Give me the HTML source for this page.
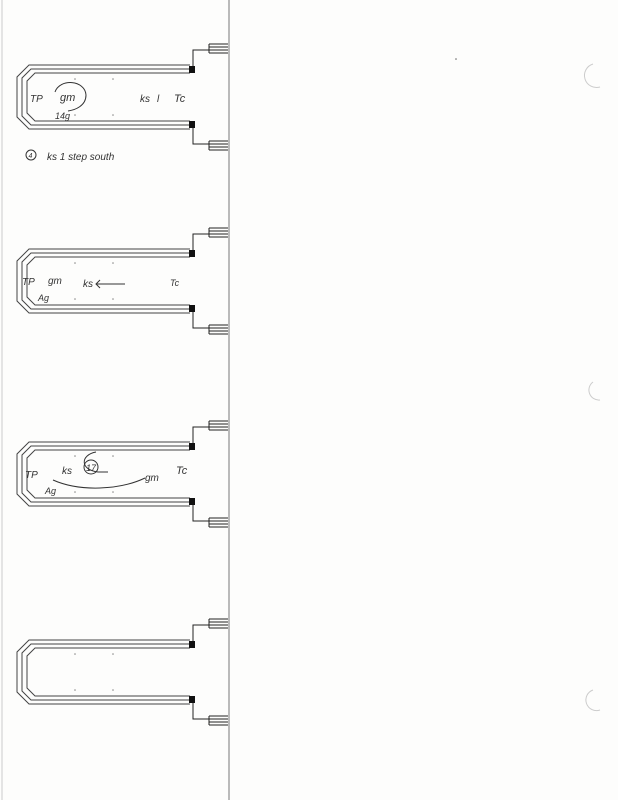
<!DOCTYPE html>
<html><head><meta charset="utf-8"><style>
html,body{margin:0;padding:0;background:#fdfdfc;}
svg{display:block;}
text{font-family:"Liberation Sans",sans-serif;font-style:italic;fill:#333;}
</style></head><body>
<svg width="618" height="800" viewBox="0 0 618 800" xmlns="http://www.w3.org/2000/svg">
<defs>
<g id="u">
 <g fill="none" stroke="#444" stroke-width="1">
  <path d="M190,-32 H29 L17,-20 V20 L29,32 H190"/>
  <path d="M190,-28 H31 L22,-19 V19 L31,28 H190"/>
  <path d="M190,-24 H35 L27,-16 V16 L35,24 H190"/>
  <path d="M193,-26 V-47 H209 M209,-53 V-44 M209,-53 H228 M209,-50 H228 M209,-47 H228 M209,-44 H228" stroke="#222"/>
  <path d="M193,26 V47 H209 M209,53 V44 M209,53 H228 M209,50 H228 M209,47 H228 M209,44 H228" stroke="#222"/>
 </g>
 <rect x="189" y="-31" width="6" height="7" fill="#111"/>
 <rect x="189" y="24" width="6" height="7" fill="#111"/>
 <g fill="#888"><circle cx="75" cy="-18" r="0.8"/><circle cx="113" cy="-18" r="0.8"/><circle cx="75" cy="18" r="0.8"/><circle cx="113" cy="18" r="0.8"/></g>
</g>
</defs>
<line x1="229" y1="0" x2="229" y2="800" stroke="#777" stroke-width="1"/>
<line x1="2" y1="0" x2="2" y2="800" stroke="#e4e4e4" stroke-width="2"/>
<use href="#u" transform="translate(0,97)"/>
<use href="#u" transform="translate(0,281)"/>
<use href="#u" transform="translate(0,474)"/>
<use href="#u" transform="translate(0,672)"/>

<!-- unit 1 labels -->
<text x="30" y="102" font-size="10">TP</text>
<text x="60" y="101" font-size="11">gm</text>
<path d="M55,92 C60,78 85,80 86,95 C86,106 75,110 68,111" fill="none" stroke="#333" stroke-width="1"/>
<text x="55" y="119" font-size="9">14g</text>
<text x="140" y="102" font-size="10">ks</text>
<text x="157" y="102" font-size="10">l</text>
<text x="174" y="102" font-size="11">Tc</text>
<circle cx="31" cy="155" r="5" fill="none" stroke="#333"/>
<text x="28.5" y="158" font-size="7" font-style="normal">4</text>
<text x="47" y="160" font-size="10">ks   1 step  south</text>

<!-- unit 2 -->
<text x="22" y="285" font-size="10">TP</text>
<text x="48" y="284" font-size="10">gm</text>
<text x="38" y="301" font-size="9">Ag</text>
<text x="83" y="287" font-size="10">ks</text>
<path d="M96,284 H125" stroke="#333" stroke-width="1"/>
<path d="M100,280 L96,284 L100,288" fill="none" stroke="#333"/>
<text x="170" y="286" font-size="9">Tc</text>

<!-- unit 3 -->
<text x="25" y="478" font-size="10">TP</text>
<text x="62" y="474" font-size="10">ks</text>
<circle cx="91" cy="467" r="7" fill="none" stroke="#333"/>
<text x="86" y="471" font-size="9">17</text>
<path d="M96,452 C80,455 80,470 98,472 H108" fill="none" stroke="#333"/>
<path d="M53,480 C80,492 120,490 145,478" fill="none" stroke="#333"/>
<text x="145" y="481" font-size="10">gm</text>
<text x="176" y="474" font-size="11">Tc</text>
<text x="45" y="494" font-size="9">Ag</text>

<!-- punch holes -->
<g fill="none" stroke="#ccc"><path d="M593,64 A10,10 0 0 0 600,87"/><path d="M593,382 A10,10 0 0 0 600,400"/><path d="M593,690 A10,10 0 0 0 600,710"/></g>
<circle cx="456" cy="59" r="0.8" fill="#666"/>
</svg>
</body></html>
